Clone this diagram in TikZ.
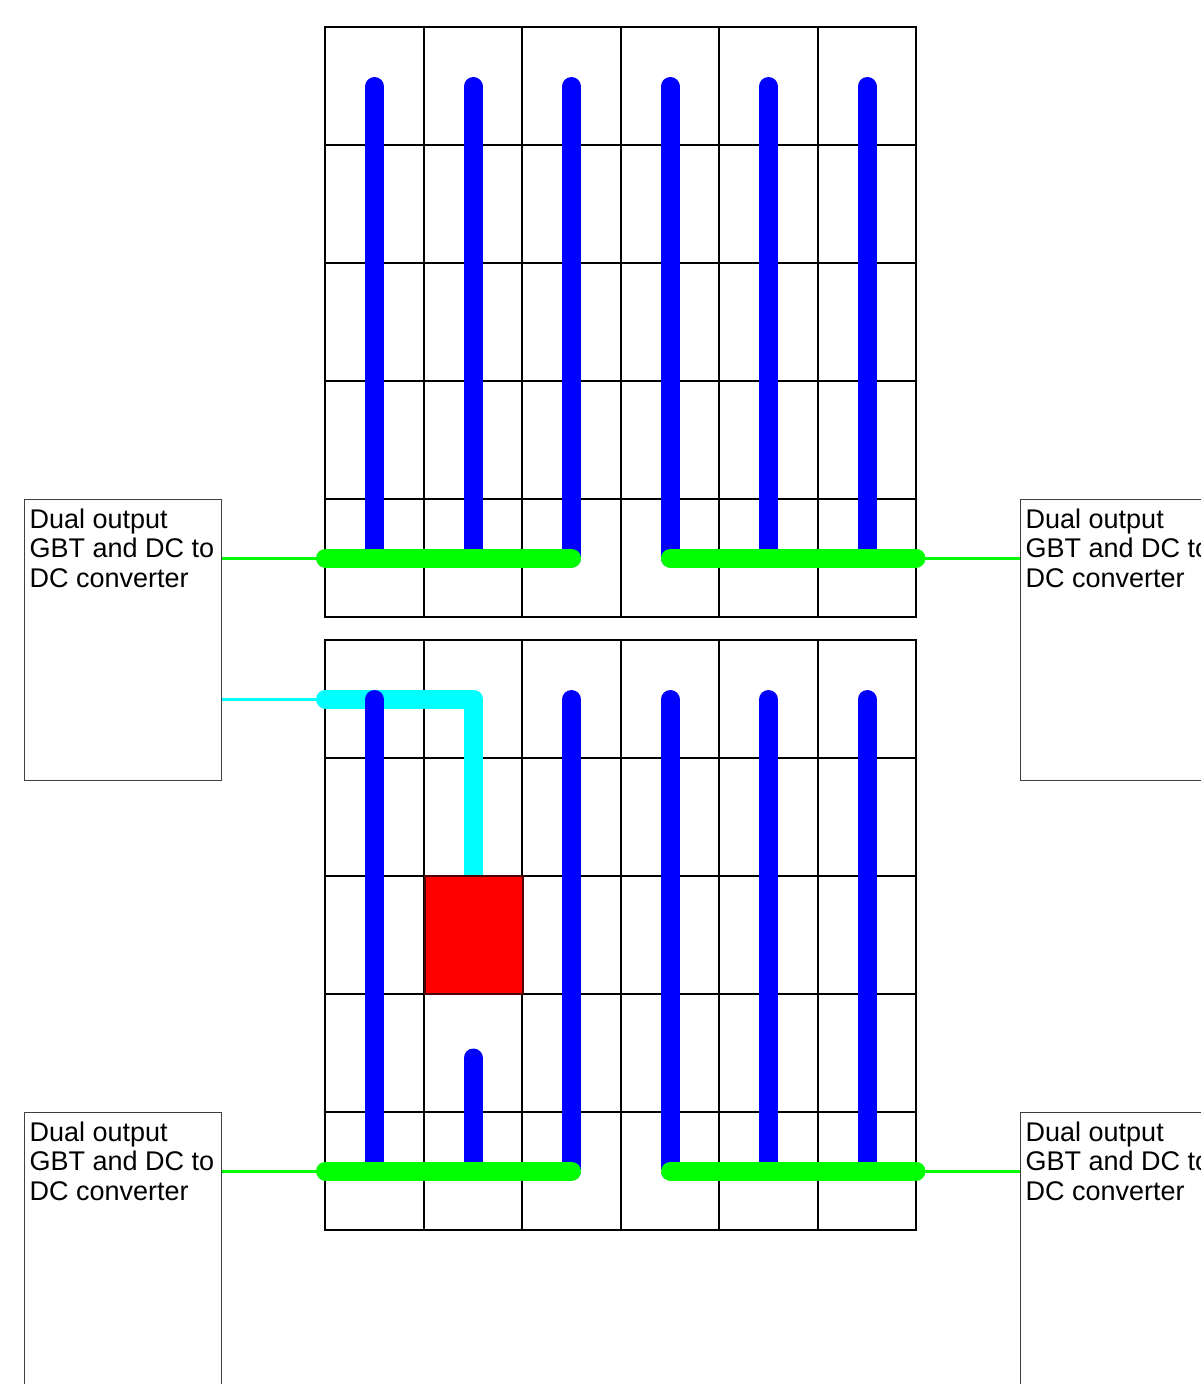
\documentclass[tikz,border=0pt]{standalone}
\usepackage{fontspec}
\setmainfont{Liberation Sans}
\usetikzlibrary{backgrounds}
\definecolor{pureblue}{RGB}{0,0,255}
\definecolor{puregreen}{RGB}{0,255,0}
\definecolor{purecyan}{RGB}{0,255,255}
\definecolor{purered}{RGB}{255,0,0}
\tikzset{
  gridline/.style={draw=black,line width=2pt,line cap=rect},
  track/.style={line width=19pt,line cap=round,line join=round},
  bluetrack/.style={track,draw=pureblue},
  greenrail/.style={track,draw=puregreen},
  cyanrail/.style={track,draw=purecyan},
  feed/.style={line width=3pt},
  box/.style={draw=black!75,fill=white,line width=1.2pt,rectangle,minimum width=197pt,minimum height=281pt,inner sep=0pt,anchor=north west},
  boxtext/.style={anchor=north west,align=left,inner sep=0pt,font=\fontsize{27}{29.5}\selectfont},
  redblock/.style={draw=black!70!purered,fill=purered,line width=2pt,rectangle,minimum width=98.5pt,minimum height=118pt,inner sep=0pt,anchor=north west}
}
\newcommand{\panelgrid}[1]{%
  \foreach \gx in {0,1,...,6}{\draw[gridline] (325+98.5*\gx,#1) -- (325+98.5*\gx,#1+590);}
  \foreach \gy in {0,1,...,5}{\draw[gridline] (325,#1+118*\gy) -- (916,#1+118*\gy);}
}
\begin{document}
\begin{tikzpicture}[x=1pt,y=-1pt]
\useasboundingbox (0,0) rectangle (1200,1384);
% converter boxes
\node[box] (tl) at (24,499) {};
\node[box] (tr) at (1020,499) {};
\node[box] (bl) at (24,1112) {};
\node[box] (br) at (1020,1112) {};
\foreach \b in {tl,tr,bl,br}{
  \node[boxtext] (\b text) at ([xshift=5.5pt,yshift=-9.5pt]\b.north west) {Dual output\\GBT and DC to\\DC converter};
}
% rail coordinates, top panel
\coordinate (tlrailA) at (325.5,558);
\coordinate (tlrailB) at (571.5,558);
\coordinate (trrailA) at (670.5,558);
\coordinate (trrailB) at (916,558);
% rail coordinates, bottom panel
\coordinate (blrailA) at (325.5,1171);
\coordinate (blrailB) at (571.5,1171);
\coordinate (brrailA) at (670.5,1171);
\coordinate (brrailB) at (916,1171);
\coordinate (cyanA) at (325.5,699);
% red block
\node[redblock] (red) at (423.5,875) {};
\begin{pgfonlayer}{background}
  \fill[white] (0,0) rectangle (1200,1384);
  \panelgrid{27}
  \panelgrid{640}
  \draw[cyanrail] (cyanA) -- (red.north |- cyanA) -- (red.north);
\end{pgfonlayer}
% feeds
\draw[feed,puregreen] (tl.east |- tlrailA) -- (tlrailA);
\draw[feed,puregreen] (tr.west |- trrailB) -- (trrailB);
\draw[feed,puregreen] (bl.east |- blrailA) -- (blrailA);
\draw[feed,puregreen] (br.west |- brrailB) -- (brrailB);
\draw[feed,purecyan] (tl.east |- cyanA) -- (cyanA);
% blue tracks
\foreach \tx in {374.5,473.2,571.5,670.2,768.5,867.2}{
  \draw[bluetrack] (\tx,86.5) -- (\tx,558);
}
\foreach \tx in {374.5,571.5,670.2,768.5,867.2}{
  \draw[bluetrack] (\tx,699.5) -- (\tx,1171);
}
\draw[bluetrack] (473.2,1058) -- (473.2,1171);
% green rails
\draw[greenrail] (tlrailA) -- (tlrailB);
\draw[greenrail] (trrailA) -- (trrailB);
\draw[greenrail] (blrailA) -- (blrailB);
\draw[greenrail] (brrailA) -- (brrailB);
\end{tikzpicture}
\end{document}
